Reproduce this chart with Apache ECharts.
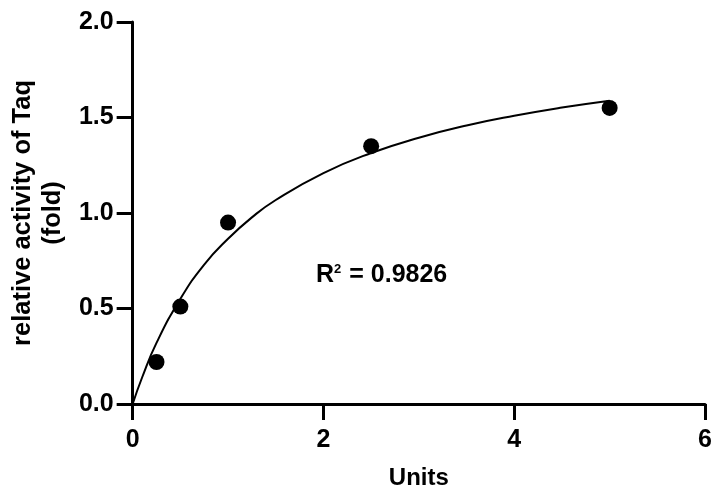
<!DOCTYPE html>
<html>
<head>
<meta charset="utf-8">
<script src="https://cdn.jsdelivr.net/npm/echarts@6/dist/echarts.min.js"></script>
<style>html,body{margin:0;padding:0;background:#fff}#c{width:715px;height:496px}</style>
</head>
<body>
<div id="c"></div>
<script>
// Measured points
var pointX = [0.25, 0.5, 1, 2.5, 5];
var pointY = [0.22, 0.51, 0.95, 1.35, 1.55];
// Fitted curve
var curveX = [0, 0.1, 0.25, 0.5, 0.75, 1, 1.25, 1.5, 2, 2.5, 3, 3.5, 4, 4.5, 5];
var curveY = [0, 0.14, 0.32, 0.55, 0.73, 0.865, 0.977, 1.068, 1.209, 1.314, 1.394, 1.458, 1.509, 1.552, 1.588];
var xTicks = [0, 2, 4, 6];
var yTicks = [0, 0.5, 1.0, 1.5, 2.0];
var xTitle = 'Units';
var yTitle = 'relative activity of Taq\n(fold)';
var r2Text = '0.9826';

var chart = echarts.init(document.getElementById('c'), null, {renderer: 'canvas'});
var font = '"Liberation Sans", Arial, sans-serif';
function zip(a, b) { return a.map(function (v, i) { return [v, b[i]]; }); }

chart.setOption({
  animation: false,
  backgroundColor: '#fff',
  grid: {left: 131, right: 9, top: 22, bottom: 92, containLabel: false},
  xAxis: {
    type: 'value', min: xTicks[0], max: xTicks[xTicks.length - 1], interval: 2,
    name: xTitle, nameLocation: 'middle', nameGap: 62,
    nameTextStyle: {fontFamily: font, fontWeight: 'bold', fontSize: 24, color: '#000'},
    axisLine: {show: true, onZero: false, lineStyle: {color: '#000', width: 3}},
    axisTick: {show: true, length: 16, lineStyle: {color: '#000', width: 3}},
    axisLabel: {margin: 24, fontFamily: font, fontWeight: 'bold', fontSize: 25, color: '#000'},
    splitLine: {show: false}
  },
  yAxis: {
    type: 'value', min: yTicks[0], max: yTicks[yTicks.length - 1], interval: 0.5,
    name: yTitle, nameLocation: 'middle', nameGap: 61, nameRotate: 90,
    nameTextStyle: {fontFamily: font, fontWeight: 'bold', fontSize: 25.5, color: '#000', lineHeight: 30, align: 'center'},
    axisLine: {show: true, onZero: false, lineStyle: {color: '#000', width: 3}},
    axisTick: {show: true, length: 16, lineStyle: {color: '#000', width: 3}},
    axisLabel: {margin: 19, fontFamily: font, fontWeight: 'bold', fontSize: 25, color: '#000',
      formatter: function (v) { return v.toFixed(1); }},
    splitLine: {show: false}
  },
  series: [
    {
      type: 'line', data: zip(curveX, curveY), smooth: true, showSymbol: false,
      lineStyle: {color: '#000', width: 2}, z: 2
    },
    {
      type: 'scatter', data: zip(pointX, pointY), symbol: 'circle', symbolSize: 16,
      itemStyle: {color: '#000', opacity: 1}, z: 3
    }
  ],
  graphic: [{
    type: 'text', left: 316, top: 263,
    style: {
      text: '{r|R}{s|2}{r| = ' + r2Text + '}',
      rich: {
        r: {fontFamily: font, fontWeight: 'bold', fontSize: 25, fill: '#000', verticalAlign: 'bottom'},
        s: {fontFamily: font, fontWeight: 'bold', fontSize: 13, fill: '#000', verticalAlign: 'top', padding: [0, 1, 12, 0]}
      }
    }
  }]
});
</script>
</body>
</html>
